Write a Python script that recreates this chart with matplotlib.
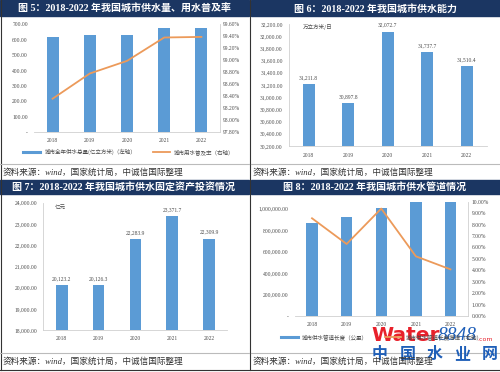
import matplotlib
matplotlib.use("Agg")
import matplotlib.pyplot as plt
from matplotlib.ticker import FixedLocator, FuncFormatter
from matplotlib.lines import Line2D
from matplotlib.patches import Rectangle

plt.rcParams['font.family'] = ['Liberation Serif', 'Noto Sans CJK SC', 'DejaVu Sans']

W, H = 500, 372
years = ['2018', '2019', '2020', '2021', '2022']

# 图5 数据
supply_total = [614.6, 628.3, 629.5, 673.3, 674.4]       # 亿立方米
supply_rate = [98.36, 98.78, 98.99, 99.38, 99.39]          # %
# 图6 数据
capacity = [31211.8, 30897.8, 32072.7, 31737.7, 31510.4]  # 万立方米/日
capacity_lbl = ['31,211.8', '30,897.8', '32,072.7', '31,737.7', '31,510.4']
# 图7 数据
invest = [20123.2, 20126.3, 22283.9, 23371.7, 22309.9]    # 亿元
invest_lbl = ['20,123.2', '20,126.3', '22,283.9', '23,371.7', '22,309.9']
# 图8 数据
pipe_len = [865017, 920082, 1006910, 1059955, 1103300]    # 公里
pipe_growth = [8.55, 6.30, 9.40, 5.22, 4.08]               # %

titles = ['图 5：2018-2022 年我国城市供水量、用水普及率',
          '图 6：2018-2022 年我国城市供水能力',
          '图 7：2018-2022 年我国城市供水固定资产投资情况',
          '图 8：2018-2022 年我国城市供水管道情况']
source = '资料来源：wind，国家统计局，中诚信国际整理'

BAR = '#5B9BD5'
LINE = '#EC9A5A'
NAVY = '#1b3662'
TXT = '#4a4a4a'
AXC = '#d0d0d0'

fig = plt.figure(figsize=(5.0, 3.72), dpi=100)


def px_axes(x0, y0, x1, y1):
    return fig.add_axes([x0 / W, 1 - y1 / H, (x1 - x0) / W, (y1 - y0) / H])


def px_text(x, y, s, **kw):
    fig.text(x / W, 1 - y / H, s, **kw)


def style(ax, left_line=False):
    for side in ['top', 'left', 'right']:
        ax.spines[side].set_visible(False)
    ax.spines['bottom'].set_color(AXC)
    ax.spines['bottom'].set_linewidth(0.6)
    if left_line:
        ax.spines['left'].set_visible(True)
        ax.spines['left'].set_color(AXC)
        ax.spines['left'].set_linewidth(0.6)
    ax.set_xlim(-0.5, 4.5)
    ax.set_xticks(range(5))
    ax.set_xticklabels(years)
    ax.tick_params(axis='x', length=0, labelsize=4, colors=TXT, pad=4)
    ax.tick_params(axis='y', length=0, labelsize=4, colors=TXT, pad=4.5)
    ax.set_facecolor('none')


def fmt_num(v, dec=2):
    if v == 0:
        return '-'
    return f'{v:,.{dec}f}'


# 背景框
bg = fig.add_axes([0, 0, 1, 1])
bg.set_xlim(0, W)
bg.set_ylim(H, 0)
bg.axis('off')
bg.add_patch(Rectangle((0, 0), 248.5, 16, color=NAVY))
bg.add_patch(Rectangle((251, 0), 249, 16, color=NAVY))
bg.add_patch(Rectangle((0, 180), 248.5, 13.5, color=NAVY))
bg.add_patch(Rectangle((251, 180), 249, 13.5, color=NAVY))
bg.plot([0.5, 0.5], [0, 370], color='#333333', lw=0.8)
bg.plot([249.7, 249.7], [0, 370], color='#333333', lw=0.8)
bg.plot([0, 500], [369.5, 369.5], color='#333333', lw=0.8)
bg.plot([0, 248.5], [163.5, 163.5], color='#bbbbbb', lw=0.8)
bg.plot([251, 500], [163.5, 163.5], color='#bbbbbb', lw=0.8)
bg.plot([0, 248.5], [352.5, 352.5], color='#bbbbbb', lw=0.8)
bg.plot([251, 500], [352.5, 352.5], color='#bbbbbb', lw=0.8)

px_text(124, 8.5, titles[0], color='white', fontsize=7.2, fontweight='bold', ha='center', va='center')
px_text(375, 8.5, titles[1], color='white', fontsize=7.2, fontweight='bold', ha='center', va='center')
px_text(124, 187, titles[2], color='white', fontsize=7.2, fontweight='bold', ha='center', va='center')
px_text(375, 187, titles[3], color='white', fontsize=7.2, fontweight='bold', ha='center', va='center')
for sx, sy in [(3, 173), (253, 173), (3, 362), (253, 362)]:
    px_text(sx, sy, source, color='#333333', fontsize=6.2, fontstyle='italic', ha='left', va='center')

# ---- 图5 ----
ax5 = px_axes(34, 24.3, 220, 132.3)
style(ax5)
ax5.bar(range(5), supply_total, width=0.32, color=BAR, zorder=2)
ax5.set_ylim(0, 700)
ax5.yaxis.set_major_locator(FixedLocator(range(0, 701, 100)))
ax5.yaxis.set_major_formatter(FuncFormatter(lambda v, p: fmt_num(v)))
ax5r = ax5.twinx()
ax5r.plot(range(5), supply_rate, color=LINE, lw=1.3, zorder=3)
ax5r.set_ylim(97.8, 99.6)
ax5r.yaxis.set_major_locator(FixedLocator([97.8 + 0.2 * i for i in range(10)]))
ax5r.yaxis.set_major_formatter(FuncFormatter(lambda v, p: f'{v:.2f}%'))
for side in ['top', 'left', 'bottom']:
    ax5r.spines[side].set_visible(False)
ax5r.spines['right'].set_color(AXC)
ax5r.spines['right'].set_linewidth(0.6)
ax5r.tick_params(axis='y', length=0, labelsize=4, colors=TXT, pad=2)
ax5r.set_xlim(-0.5, 4.5)

h5 = [Line2D([], [], color=BAR, lw=2.2), Line2D([], [], color=LINE, lw=1.3)]
fig.legend(h5, ['城市全年供水总量(亿立方米)（左轴）', '城市用水普及率（右轴）'],
           loc='center', bbox_to_anchor=(129 / W, 1 - 152 / H), ncol=2, frameon=False,
           handlelength=3, columnspacing=3, labelcolor=TXT,
           prop={'family': ['Noto Sans CJK SC'], 'size': 4})

# ---- 图6 ----
ax6 = px_axes(289, 24, 486.5, 146)
style(ax6, left_line=True)
ax6.bar(range(5), capacity, width=0.31, color=BAR, zorder=2)
ax6.set_ylim(30200, 32200)
ax6.yaxis.set_major_locator(FixedLocator(range(30200, 32201, 200)))
ax6.yaxis.set_major_formatter(FuncFormatter(lambda v, p: fmt_num(v)))
ax6.tick_params(axis='x', pad=5)
for i, v in enumerate(capacity):
    ax6.annotate(capacity_lbl[i], (i, v), xytext=(0, 3), textcoords='offset points',
                 ha='center', va='bottom', fontsize=4, color=TXT)
px_text(303, 27, '万立方米/日', fontsize=4, color=TXT, ha='left', va='center',
        family=['Noto Sans CJK SC'])

# ---- 图7 ----
ax7 = px_axes(43.4, 202.7, 227.4, 330.3)
style(ax7, left_line=True)
ax7.bar(range(5), invest, width=0.32, color=BAR, zorder=2)
ax7.set_ylim(18000, 24000)
ax7.yaxis.set_major_locator(FixedLocator(range(18000, 24001, 1000)))
ax7.yaxis.set_major_formatter(FuncFormatter(lambda v, p: fmt_num(v)))
for i, v in enumerate(invest):
    ax7.annotate(invest_lbl[i], (i, v), xytext=(0, 3), textcoords='offset points',
                 ha='center', va='bottom', fontsize=4, color=TXT)
px_text(55, 207, '亿元', fontsize=4, color=TXT, ha='left', va='center',
        family=['Noto Sans CJK SC'])

# ---- 图8 ----
ax8 = px_axes(294.7, 201.7, 467.8, 316)
style(ax8)
ax8.bar(range(5), pipe_len, width=0.33, color=BAR, zorder=2)
ax8.set_ylim(0, 1065000)
ax8.yaxis.set_major_locator(FixedLocator(range(0, 1000001, 200000)))
ax8.yaxis.set_major_formatter(FuncFormatter(lambda v, p: fmt_num(v)))
ax8r = ax8.twinx()
ax8r.plot(range(5), pipe_growth, color=LINE, lw=1.3, zorder=3)
ax8r.set_ylim(0, 10)
ax8r.yaxis.set_major_locator(FixedLocator(range(0, 11)))
ax8r.yaxis.set_major_formatter(FuncFormatter(lambda v, p: f'{v:.2f}%'))
for side in ['top', 'left', 'bottom']:
    ax8r.spines[side].set_visible(False)
ax8r.spines['right'].set_color(AXC)
ax8r.spines['right'].set_linewidth(0.6)
ax8r.tick_params(axis='y', length=0, labelsize=4, colors=TXT, pad=3)
ax8r.set_xlim(-0.5, 4.5)

h8 = [Line2D([], [], color=BAR, lw=2.2), Line2D([], [], color=LINE, lw=1.3)]
fig.legend(h8, ['城市供水管道长度（公里）', '城市供水管道长度增速（右轴）'],
           loc='center left', bbox_to_anchor=(276 / W, 1 - 337 / H), ncol=2, frameon=False,
           handlelength=3, columnspacing=3, labelcolor=TXT,
           prop={'family': ['Noto Sans CJK SC'], 'size': 4})

# 水印
wm = fig.add_axes([0, 0, 1, 1])
wm.set_xlim(0, W)
wm.set_ylim(H, 0)
wm.axis('off')
wm.text(371, 341, 'Water', color='#e8212b', fontsize=14.5, fontweight='bold',
        family=['DejaVu Sans'], ha='left', va='baseline')
wm.text(438, 340, '8848', color='#1f5fb8', fontsize=14, fontstyle='italic',
        family=['Liberation Serif'], ha='left', va='baseline')
wm.text(477, 341, '.com', color='#e8212b', fontsize=4.5, family=['DejaVu Sans'],
        ha='left', va='baseline')
for k, ch in enumerate('中国水业网'):
    wm.text(380 + k * 27.5, 354, ch, color='#1f5fb8', fontsize=11.5, fontweight='bold',
            family=['Noto Sans CJK SC'], ha='center', va='center')

fig.savefig('out.png', dpi=100)
